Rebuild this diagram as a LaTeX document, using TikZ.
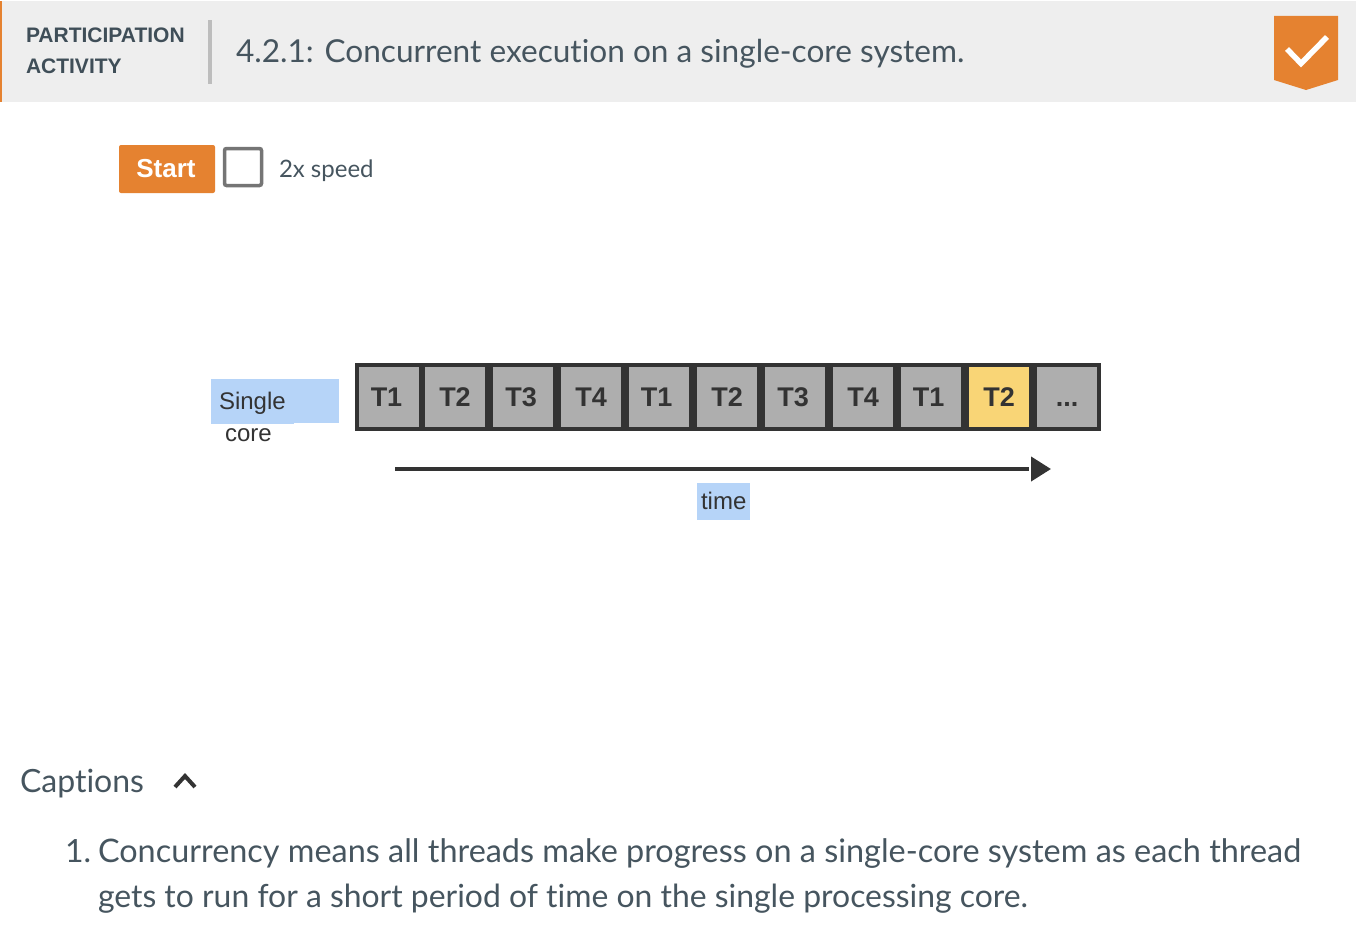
\documentclass[tikz,border=0pt]{standalone}
\usepackage{fontspec}
\setmainfont{Lato}[Ligatures=NoCommon]
\newfontfamily\arialf{Liberation Sans}
\usetikzlibrary{arrows.meta}
\definecolor{hdr}{HTML}{EEEEEE}
\definecolor{zorange}{HTML}{E58230}
\definecolor{ink}{HTML}{46555F}
\definecolor{inkb}{HTML}{3F4E58}
\definecolor{dark}{HTML}{333333}
\definecolor{cellgray}{HTML}{AEAEAE}
\definecolor{cellyellow}{HTML}{F9D576}
\definecolor{hl}{HTML}{B6D4F8}
\definecolor{sepgray}{HTML}{BDBDBD}
\definecolor{boxgray}{HTML}{757575}
\newcommand{\fsz}[1]{\fontsize{#1}{#1}\selectfont}
\tikzset{
  txt/.style={inner sep=0pt,outer sep=0pt,anchor=base west,text=ink},
  cell/.style={draw=none,fill=cellgray,minimum width=60pt,minimum height=60pt,inner sep=0pt,outer sep=0pt,anchor=north west,text=dark,font=\arialf\bfseries\fsz{27}},
  dia/.style={inner sep=0pt,outer sep=0pt,anchor=base west,text=dark,font=\arialf\fsz{24}}
}
\begin{document}
\begin{tikzpicture}[x=1pt,y=-1pt]
\useasboundingbox (0,0) rectangle (1356,950);
\fill[white] (0,0) rectangle (1356,950);
% header
\fill[hdr] (0,1) rectangle (1356,102);
\fill[zorange] (0,1) rectangle (2,102);
\fill[sepgray] (208,20) rectangle (212,84);
\node[txt,text=inkb,font=\arialf\bfseries\fsz{21}] (pa1) at (26,43) {PARTICIPATION};
\node[txt,text=inkb,font=\arialf\bfseries\fsz{21}] (pa2) at (26,74) {ACTIVITY};
\node[txt,font=\fsz{31.6}] (title) at (236,63) {4.2.1: Concurrent execution on a single-core system.};
% badge
\fill[zorange] (1274,16) -- (1338,16) -- (1338,80) -- (1306,90) -- (1274,80) -- cycle;
\draw[white,line width=5.5pt] (1287,49) -- (1301,63.5) -- (1327,37);
% controls
\node[fill=zorange,rounded corners=2pt,minimum width=96pt,minimum height=48pt,inner sep=0pt,text=white,font=\arialf\bfseries\fsz{26}] (start) at (167,169) {Start\kern2pt};
\node[draw=boxgray,line width=3.5pt,rounded corners=2pt,minimum width=37pt,minimum height=37pt,inner sep=0pt,fill=white] (speedbox) at (243,167) {};
\node[txt,font=\fsz{24}] (speed) at (279,177) {2x speed};
% highlights
\fill[hl] (211,379) rectangle (339,423);
\fill[hl] (211,423) rectangle (294,424);
\fill[hl] (697,483) rectangle (750,520);
\node[dia] (single) at (219,409) {Single};
\node[dia] (core) at (225,441) {core};
% strip
\fill[dark] (355,363) rectangle (1101,431);
\node[cell] (c1) at (359,367) {T1\kern5pt};
\node[cell] (c2) at (425,367) {T2};
\node[cell] (c3) at (493,367) {T3\kern4pt};
\node[cell] (c4) at (561,367) {T4};
\node[cell] (c5) at (629,367) {T1\kern5pt};
\node[cell] (c6) at (697,367) {T2};
\node[cell] (c7) at (765,367) {T3\kern4pt};
\node[cell] (c8) at (833,367) {T4};
\node[cell] (c9) at (901,367) {T1\kern5pt};
\node[cell,fill=cellyellow] (c10) at (969,367) {T2};
\node[cell] (c11) at (1037,367) {\vphantom{T}...};
% arrow
\coordinate (ta) at (395,469);
\coordinate (tb) at (1051,469);
\draw[dark,line width=4pt,-{Triangle[length=20pt,width=24pt]}] (ta) -- (tb);
\fill[white] (1029,465) rectangle (1031,473);
\node[dia] (time) at (701,509) {time};
% captions
\node[txt,font=\fsz{32}] (cap) at (20,792) {Captions};
\draw[dark,line width=4pt] (175,787) -- (185,776) -- (195,787);
\node[txt,font=\fsz{32}] (num) at (65,862) {1.};
\node[txt,font=\fsz{32.4}] (l1) at (98,862) {Concurrency means all threads make progress on a single-core system as each thread};
\node[txt,font=\fsz{31.9}] (l2) at (98,907) {gets to run for a short period of time on the single processing core.};
\end{tikzpicture}
\end{document}
